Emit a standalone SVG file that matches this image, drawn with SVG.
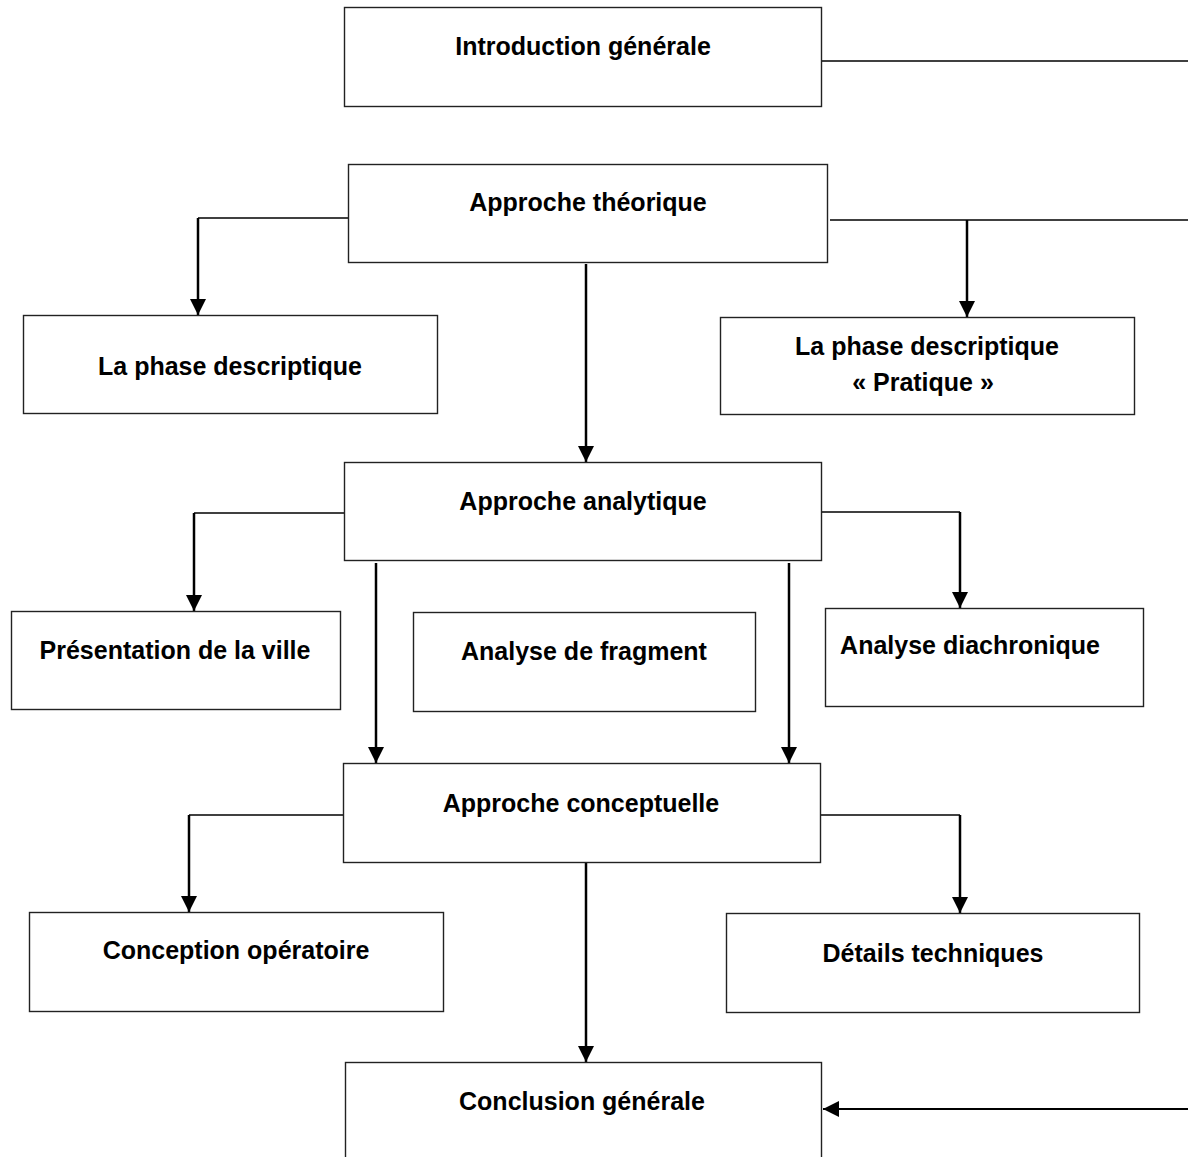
<svg xmlns="http://www.w3.org/2000/svg" width="1188" height="1157" viewBox="0 0 1188 1157">
<style>
.box{fill:#fff;stroke:#222;stroke-width:1.4}
.lbl{font-family:"Liberation Sans",Arial,sans-serif;font-weight:bold;font-size:25px;fill:#000;text-anchor:middle}
.ln{fill:none;stroke:#000;stroke-width:1.5}
.ar{fill:none;stroke:#000;stroke-width:2.5}
.arh{fill:none;stroke:#000;stroke-width:2}
</style>
<defs>
<marker id="ahb" markerWidth="18" markerHeight="18" refX="16" refY="8" orient="auto" markerUnits="userSpaceOnUse" overflow="visible">
<path d="M0,0 L16,8 L0,16 Z" fill="#000"/>
</marker>
</defs>
<g id="connectors">
<path class="ln" d="M821,61 H1188"/>
<path class="ln" d="M830,220 H1188"/>
<path class="ln" d="M348,218 H198"/>
<path class="ar" d="M198,218 V315" marker-end="url(#ahb)"/>
<path class="ar" d="M967,220 V317" marker-end="url(#ahb)"/>
<path class="ar" d="M586,264 V462" marker-end="url(#ahb)"/>
<path class="ln" d="M344,513 H194"/>
<path class="ar" d="M194,513 V611" marker-end="url(#ahb)"/>
<path class="ln" d="M821,512 H960"/>
<path class="ar" d="M960,512 V608" marker-end="url(#ahb)"/>
<path class="ar" d="M376,563 V763" marker-end="url(#ahb)"/>
<path class="ar" d="M789,563 V763" marker-end="url(#ahb)"/>
<path class="ln" d="M343,815 H189"/>
<path class="ar" d="M189,815 V912" marker-end="url(#ahb)"/>
<path class="ln" d="M820,815 H960"/>
<path class="ar" d="M960,815 V913" marker-end="url(#ahb)"/>
<path class="ar" d="M586,862 V1062" marker-end="url(#ahb)"/>
<path class="arh" d="M1188,1109 H823" marker-end="url(#ahb)"/>
</g>
<g id="n-intro"><rect class="box" x="344.5" y="7.5" width="477" height="99"/><text class="lbl" x="583" y="55">Introduction générale</text></g>
<g id="n-theorique"><rect class="box" x="348.5" y="164.5" width="479" height="98"/><text class="lbl" x="588" y="211">Approche théorique</text></g>
<g id="n-phase"><rect class="box" x="23.5" y="315.5" width="414" height="98"/><text class="lbl" x="230" y="375">La phase descriptique</text></g>
<g id="n-pratique"><rect class="box" x="720.5" y="317.5" width="414" height="97"/><text class="lbl" x="927" y="355">La phase descriptique</text><text class="lbl" x="923" y="391">« Pratique »</text></g>
<g id="n-analytique"><rect class="box" x="344.5" y="462.5" width="477" height="98"/><text class="lbl" x="583" y="510">Approche analytique</text></g>
<g id="n-ville"><rect class="box" x="11.5" y="611.5" width="329" height="98"/><text class="lbl" x="175" y="659">Présentation de la ville</text></g>
<g id="n-fragment"><rect class="box" x="413.5" y="612.5" width="342" height="99"/><text class="lbl" x="584" y="660">Analyse de fragment</text></g>
<g id="n-diachronique"><rect class="box" x="825.5" y="608.5" width="318" height="98"/><text class="lbl" x="970" y="654">Analyse diachronique</text></g>
<g id="n-conceptuelle"><rect class="box" x="343.5" y="763.5" width="477" height="99"/><text class="lbl" x="581" y="812">Approche conceptuelle</text></g>
<g id="n-conception"><rect class="box" x="29.5" y="912.5" width="414" height="99"/><text class="lbl" x="236" y="959">Conception opératoire</text></g>
<g id="n-details"><rect class="box" x="726.5" y="913.5" width="413" height="99"/><text class="lbl" x="933" y="962">Détails techniques</text></g>
<g id="n-conclusion"><rect class="box" x="345.5" y="1062.5" width="476" height="100"/><text class="lbl" x="582" y="1110">Conclusion générale</text></g>
</svg>
